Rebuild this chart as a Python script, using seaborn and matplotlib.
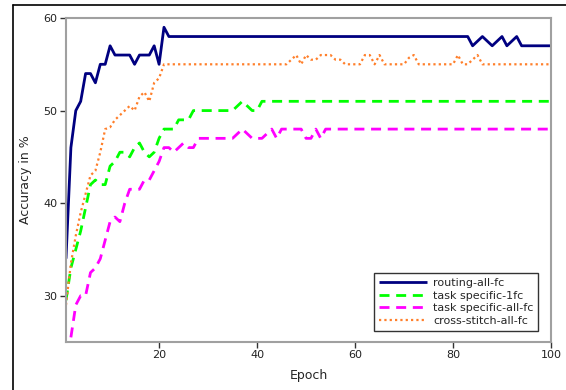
import numpy as np
import pandas as pd
import seaborn as sns
import matplotlib
matplotlib.use('Agg')
from matplotlib import pyplot as plt
from matplotlib.lines import Line2D

epochs = list(range(1, 101))

routing_all_fc = [
    34, 46, 50, 51, 54, 54, 53, 55, 55, 57,
    56, 56, 56, 56, 55, 56, 56, 56, 57, 55,
    59, 58, 58, 58, 58, 58, 58, 58, 58, 58,
    58, 58, 58, 58, 58, 58, 58, 58, 58, 58,
    58, 58, 58, 58, 58, 58, 58, 58, 58, 58,
    58, 58, 58, 58, 58, 58, 58, 58, 58, 58,
    58, 58, 58, 58, 58, 58, 58, 58, 58, 58,
    58, 58, 58, 58, 58, 58, 58, 58, 58, 58,
    58, 58, 58, 57, 57.5, 58, 57.5, 57, 57.5, 58,
    57, 57.5, 58, 57, 57, 57, 57, 57, 57, 57,
]

task_specific_1fc = [
    29.5, 33, 35, 37, 39.5, 42, 42.5, 42, 42, 44,
    44.5, 45.5, 45.5, 45, 46, 46.5, 45.5, 45, 45.5, 47,
    48, 48, 48, 49, 49, 49, 50, 50, 50, 50,
    50, 50, 50, 50, 50, 50.5, 51, 50.5, 50, 50,
    51, 51, 51, 51, 51, 51, 51, 51, 51, 51,
    51, 51, 51, 51, 51, 51, 51, 51, 51, 51,
    51, 51, 51, 51, 51, 51, 51, 51, 51, 51,
    51, 51, 51, 51, 51, 51, 51, 51, 51, 51,
    51, 51, 51, 51, 51, 51, 51, 51, 51, 51,
    51, 51, 51, 51, 51, 51, 51, 51, 51, 51,
]

task_specific_all_fc = [
    np.nan, 25.5, 29, 30, 30, 32.5, 33, 34, 36, 38,
    38.5, 38, 40, 41.5, 41.5, 41.5, 42.5, 42.5, 43.5, 44.5,
    46, 46, 45.5, 46, 46.5, 46, 46, 47, 47, 47,
    47, 47, 47, 47, 47, 47.5, 48, 47.5, 47, 47,
    47, 47.5, 48, 47, 48, 48, 48, 48, 48, 47,
    47, 48, 47, 48, 48, 48, 48, 48, 48, 48,
    48, 48, 48, 48, 48, 48, 48, 48, 48, 48,
    48, 48, 48, 48, 48, 48, 48, 48, 48, 48,
    48, 48, 48, 48, 48, 48, 48, 48, 48, 48,
    48, 48, 48, 48, 48, 48, 48, 48, 48, 48,
]

cross_stitch_all_fc = [
    29, 33.5, 36.5, 39, 41, 43, 43.5, 45.5, 48, 48.2,
    49, 49.5, 50, 50.5, 50, 51.5, 52, 51, 53, 53.5,
    55, 55, 55, 55, 55, 55, 55, 55, 55, 55,
    55, 55, 55, 55, 55, 55, 55, 55, 55, 55,
    55, 55, 55, 55, 55, 55, 55.5, 56, 55, 56,
    55.5, 55.5, 56, 56, 56, 55.5, 55.5, 55, 55, 55,
    55, 56, 56, 55, 56, 55, 55, 55, 55, 55,
    55.7, 56, 55, 55, 55, 55, 55, 55, 55, 55,
    56, 55, 55, 55.5, 56, 55, 55, 55, 55, 55,
    55, 55, 55, 55, 55, 55, 55, 55, 55, 55,
]

series = {
    'routing-all-fc': routing_all_fc,
    'task specific-1fc': task_specific_1fc,
    'task specific-all-fc': task_specific_all_fc,
    'cross-stitch-all-fc': cross_stitch_all_fc,
}
styles = {
    'routing-all-fc': dict(color='#000080', linestyle='-', linewidth=2.0),
    'task specific-1fc': dict(color='#00ff00', linestyle=(0, (3.6, 2.4)), linewidth=2.0),
    'task specific-all-fc': dict(color='#ff00ff', linestyle=(0, (3.6, 2.4)), linewidth=2.0),
    'cross-stitch-all-fc': dict(color='#ff7f2a', linestyle=(0, (1, 1.4)), linewidth=1.6),
}

df = pd.DataFrame(series)
df['Epoch'] = epochs

sns.set_style('white')
plt.rcParams['font.family'] = ['DejaVu Sans']

fig = plt.figure(figsize=(5.66, 3.9), dpi=100)
ax = fig.add_axes([0.1166, 0.1231, 0.8569, 0.8307])

for name in series:
    sns.lineplot(data=df, x='Epoch', y=name, ax=ax, label=name,
                 solid_capstyle='butt', dash_capstyle='butt', **styles[name])

ax.set_xlim(1, 100)
ax.set_ylim(25, 60)
ax.set_xticks([20, 40, 60, 80, 100])
ax.set_yticks([30, 40, 50, 60])
ax.set_xlabel('Epoch', fontsize=9, labelpad=6)
ax.set_ylabel('Accuracy in %', fontsize=9, labelpad=8)
ax.tick_params(axis='both', which='major', direction='out', length=4, width=1,
               color='#333333', labelsize=8, labelcolor='#222222', pad=2,
               bottom=True, left=True)

for sp in ax.spines.values():
    sp.set_color('#a0a0a0')
    sp.set_linewidth(1.5)

leg = ax.legend(loc='lower right', bbox_to_anchor=(0.985, 0.018), fontsize=8,
                frameon=True, fancybox=False, framealpha=1, edgecolor='#333333',
                handlelength=4.3, labelspacing=0.25, borderpad=0.4,
                handletextpad=0.6)
leg.get_frame().set_linewidth(1.0)

# screenshot frame (top and left edges)
fig.add_artist(Line2D([13 / 566, 1], [1 - 5 / 390, 1 - 5 / 390], color='black', linewidth=1.2))
fig.add_artist(Line2D([13 / 566, 13 / 566], [0, 1 - 5 / 390], color='black', linewidth=1.2))

fig.savefig('out.png', dpi=100)
